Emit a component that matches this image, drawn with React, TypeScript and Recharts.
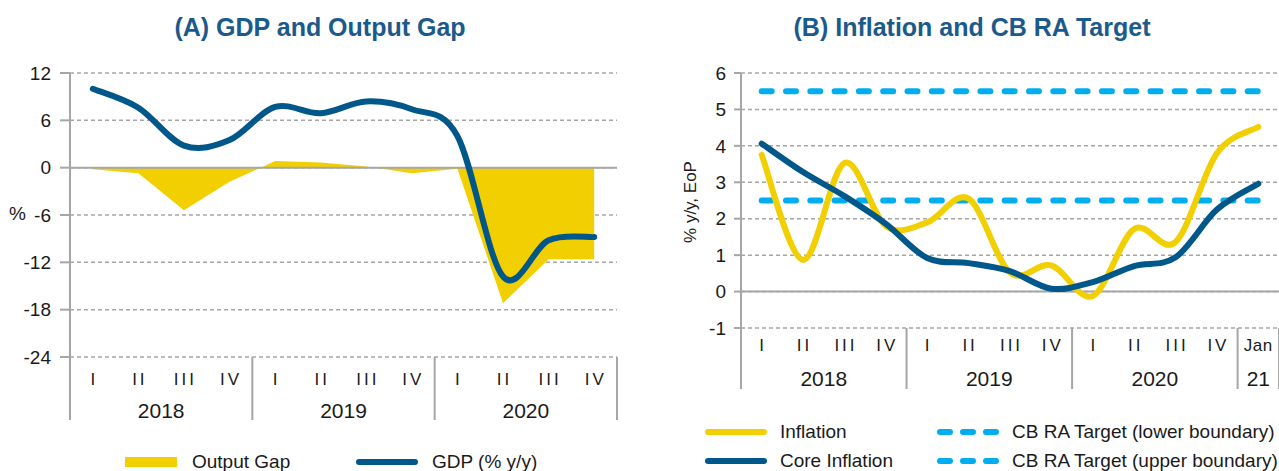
import React from 'react';
import {
  ComposedChart, Line, Area, XAxis, YAxis, CartesianGrid, ReferenceLine,
} from 'recharts';

// ---- data ----
const GDP_QUARTERS = ['I', 'II', 'III', 'IV', 'I', 'II', 'III', 'IV', 'I', 'II', 'III', 'IV'];
const GDP_YEARS = ['2018', '2018', '2018', '2018', '2019', '2019', '2019', '2019', '2020', '2020', '2020', '2020'];
const OUTPUT_GAP = [-0.2, -0.7, -5.4, -1.8, 0.85, 0.65, 0.15, -0.7, -0.15, -17.2, -11.6, -11.6];
const GDP_GROWTH = [10.0, 7.6, 2.8, 3.5, 7.7, 6.9, 8.4, 7.4, 4.0, -13.8, -9.2, -8.8];
const GDP_TICKS = [-24, -18, -12, -6, 0, 6, 12];

const INF_QUARTERS = ['I', 'II', 'III', 'IV', 'I', 'II', 'III', 'IV', 'I', 'II', 'III', 'IV', 'Jan'];
const INF_YEARS = ['2018', '2018', '2018', '2018', '2019', '2019', '2019', '2019', '2020', '2020', '2020', '2020', '21'];
const INFLATION = [3.75, 0.87, 3.53, 1.8, 1.9, 2.55, 0.52, 0.72, -0.12, 1.72, 1.36, 3.8, 4.52];
const CORE_INFLATION = [4.06, 3.28, 2.62, 1.86, 0.92, 0.78, 0.56, 0.08, 0.26, 0.7, 0.94, 2.25, 2.96];
const TARGET_LOWER = [2.5, 2.5, 2.5, 2.5, 2.5, 2.5, 2.5, 2.5, 2.5, 2.5, 2.5, 2.5, 2.5];
const TARGET_UPPER = [5.5, 5.5, 5.5, 5.5, 5.5, 5.5, 5.5, 5.5, 5.5, 5.5, 5.5, 5.5, 5.5];
const INF_TICKS = [-1, 0, 1, 2, 3, 4, 5, 6];

const gdpData = GDP_QUARTERS.map((q, i) => ({
  key: `${GDP_YEARS[i]}-${q}`, gap: OUTPUT_GAP[i], gdp: GDP_GROWTH[i],
}));
const infData = INF_QUARTERS.map((q, i) => ({
  key: `${INF_YEARS[i]}-${q}`, inflation: INFLATION[i], core: CORE_INFLATION[i],
  lower: TARGET_LOWER[i], upper: TARGET_UPPER[i],
}));

// ---- styling ----
const FONT = "'Liberation Sans', Arial, sans-serif";
const YELLOW = '#F2CF00';
const BLUE = '#00578A';
const LIGHT = '#00AEEF';
const GRID = '#A6A6A6';
const TITLE = '#1B5A8C';
const TEXT = '#1a1a1a';

// half a category band, so points sit in the middle of each category
const HALF_A = 547 / 24;
const HALF_B = 538 / 26;

// Excel-style smoothed line (uniform Catmull-Rom as cubic beziers)
const excelSmooth = (context: any) => {
  let pts: number[][] = [];
  return {
    areaStart() {},
    areaEnd() {},
    lineStart() { pts = []; },
    lineEnd() {
      const n = pts.length;
      if (!n) return;
      context.moveTo(pts[0][0], pts[0][1]);
      for (let i = 0; i < n - 1; i++) {
        const p0 = pts[Math.max(0, i - 1)];
        const p1 = pts[i];
        const p2 = pts[i + 1];
        const p3 = pts[Math.min(n - 1, i + 2)];
        context.bezierCurveTo(
          p1[0] + (p2[0] - p0[0]) / 6, p1[1] + (p2[1] - p0[1]) / 6,
          p2[0] - (p3[0] - p1[0]) / 6, p2[1] - (p3[1] - p1[1]) / 6,
          p2[0], p2[1],
        );
      }
    },
    point(x: number, y: number) { pts.push([+x, +y]); },
  };
};

// two-row category axis: quarter on top, year below, separators between years
function CategoryTick(props: any) {
  const { x, y, index, quarters, years, rowH, qDy, yDy, half } = props;
  const first = index === 0 || years[index] !== years[index - 1];
  let n = 0;
  if (first) while (index + n < years.length && years[index + n] === years[index]) n++;
  const last = index === years.length - 1;
  return (
    <g>
      <text x={x + (quarters[index] === 'Jan' ? 0 : 1.5)} y={y + qDy} textAnchor="middle" dominantBaseline="central"
        fontSize={17} letterSpacing={quarters[index] === 'Jan' ? 0.5 : 3} fill={TEXT} fontFamily={FONT}>
        {quarters[index]}
      </text>
      {first && <line x1={x - half} x2={x - half} y1={y} y2={y + rowH} stroke={GRID} strokeWidth={2} />}
      {first && (
        <text x={x - half + n * half} y={y + yDy} textAnchor="middle" dominantBaseline="central"
          fontSize={21} fill={TEXT} fontFamily={FONT}>
          {years[index]}
        </text>
      )}
      {last && <line x1={x + half} x2={x + half} y1={y} y2={y + rowH} stroke={GRID} strokeWidth={2} />}
    </g>
  );
}

const tickStyle = { fill: TEXT, fontSize: 19, fontFamily: FONT };

function Swatch({ kind, color }: { kind: 'rect' | 'line' | 'dash'; color: string }) {
  if (kind === 'rect') return <div style={{ width: 52, height: 10, background: color }} />;
  return (
    <svg width={62} height={8} style={{ display: 'block' }}>
      <line x1={3} x2={59} y1={4} y2={4} stroke={color} strokeWidth={6} strokeLinecap="round"
        strokeDasharray={kind === 'dash' ? '10 13' : undefined} />
    </svg>
  );
}

function LegendItem({ left, top, kind, color, label, gap }: any) {
  return (
    <div style={{ position: 'absolute', left, top, display: 'flex', alignItems: 'center', gap,
      fontSize: 19, color: TEXT, fontFamily: FONT, whiteSpace: 'nowrap', height: 22 }}>
      <Swatch kind={kind} color={color} />
      <span>{label}</span>
    </div>
  );
}

export default function App() {
  return (
    <div style={{ position: 'absolute', left: 0, top: 0, width: 1279, height: 471, background: '#fff',
      fontFamily: FONT, overflow: 'hidden' }}>
      {/* Panel A */}
      <div style={{ position: 'absolute', left: 0, top: 13, width: 640, textAlign: 'center',
        fontSize: 25, fontWeight: 'bold', color: TITLE }}>(A) GDP and Output Gap</div>
      <div style={{ position: 'absolute', left: 9, top: 203, fontSize: 19, color: TEXT }}>%</div>
      <div style={{ position: 'absolute', left: 0, top: 0 }}>
        <ComposedChart width={640} height={471} data={gdpData}
          margin={{ top: 73, right: 23, bottom: 50, left: 0 }}>
          <CartesianGrid vertical={false} stroke={GRID} strokeDasharray="4 3" strokeWidth={1.5} />
          <XAxis dataKey="key" interval={0} height={64} axisLine={false} tickLine={false}
            tickSize={0} tickMargin={0} padding={{ left: HALF_A, right: HALF_A }}
            tick={<CategoryTick quarters={GDP_QUARTERS} years={GDP_YEARS} rowH={63} qDy={22} yDy={53}
              half={HALF_A} />} />
          <YAxis domain={[-24, 12]} ticks={GDP_TICKS} width={70} tick={tickStyle}
            axisLine={{ stroke: GRID, strokeWidth: 2 }} tickLine={{ stroke: GRID, strokeWidth: 2 }}
            tickSize={10} tickMargin={9} />
          <Area dataKey="gap" type="linear" fill={YELLOW} fillOpacity={1} stroke="none"
            baseValue={0} isAnimationActive={false} />
          <ReferenceLine y={0} stroke={GRID} strokeWidth={2} />
          <Line dataKey="gdp" type={excelSmooth as any} stroke={BLUE} strokeWidth={6}
            strokeLinecap="round" dot={false} activeDot={false} isAnimationActive={false} />
        </ComposedChart>
      </div>
      <LegendItem left={125} top={451} kind="rect" color={YELLOW} label="Output Gap" gap={15} />
      <LegendItem left={356} top={451} kind="line" color={BLUE} label="GDP (% y/y)" gap={14} />

      {/* Panel B */}
      <div style={{ position: 'absolute', left: 652, top: 13, width: 640, textAlign: 'center',
        fontSize: 25, fontWeight: 'bold', color: TITLE }}>(B) Inflation and CB RA Target</div>
      <div style={{ position: 'absolute', left: 691, top: 202, width: 0, height: 0 }}>
        <div style={{ position: 'absolute', transform: 'translate(-50%, -50%) rotate(-90deg)',
          fontSize: 17, color: TEXT, whiteSpace: 'nowrap' }}>% y/y, EoP</div>
      </div>
      <div style={{ position: 'absolute', left: 640, top: 0 }}>
        <ComposedChart width={639} height={471} data={infData}
          margin={{ top: 73, right: 0, bottom: 82, left: 0 }}>
          <CartesianGrid vertical={false} stroke={GRID} strokeDasharray="4 3" strokeWidth={1.5} />
          <XAxis dataKey="key" interval={0} height={61} axisLine={false} tickLine={false}
            tickSize={0} tickMargin={0} padding={{ left: HALF_B, right: HALF_B }}
            tick={<CategoryTick quarters={INF_QUARTERS} years={INF_YEARS} rowH={61} qDy={17} yDy={50}
              half={HALF_B} />} />
          <YAxis domain={[-1, 6]} ticks={INF_TICKS} width={101} tick={tickStyle}
            axisLine={{ stroke: GRID, strokeWidth: 2 }} tickLine={{ stroke: GRID, strokeWidth: 2 }}
            tickSize={7} tickMargin={8} />
          <ReferenceLine y={0} stroke={GRID} strokeWidth={2} />
          <Line dataKey="lower" type="linear" stroke={LIGHT} strokeWidth={6} strokeDasharray="10 14.3"
            strokeLinecap="round" dot={false} activeDot={false} isAnimationActive={false} />
          <Line dataKey="upper" type="linear" stroke={LIGHT} strokeWidth={6} strokeDasharray="10 14.3"
            strokeLinecap="round" dot={false} activeDot={false} isAnimationActive={false} />
          <Line dataKey="inflation" type={excelSmooth as any} stroke={YELLOW} strokeWidth={6}
            strokeLinecap="round" dot={false} activeDot={false} isAnimationActive={false} />
          <Line dataKey="core" type={excelSmooth as any} stroke={BLUE} strokeWidth={6}
            strokeLinecap="round" dot={false} activeDot={false} isAnimationActive={false} />
        </ComposedChart>
      </div>
      <LegendItem left={705} top={421} kind="line" color={YELLOW} label="Inflation" gap={13} />
      <LegendItem left={705} top={450} kind="line" color={BLUE} label="Core Inflation" gap={13} />
      <LegendItem left={937} top={421} kind="dash" color={LIGHT} label="CB RA Target (lower boundary)" gap={13} />
      <LegendItem left={937} top={450} kind="dash" color={LIGHT} label="CB RA Target (upper boundary)" gap={13} />
    </div>
  );
}
